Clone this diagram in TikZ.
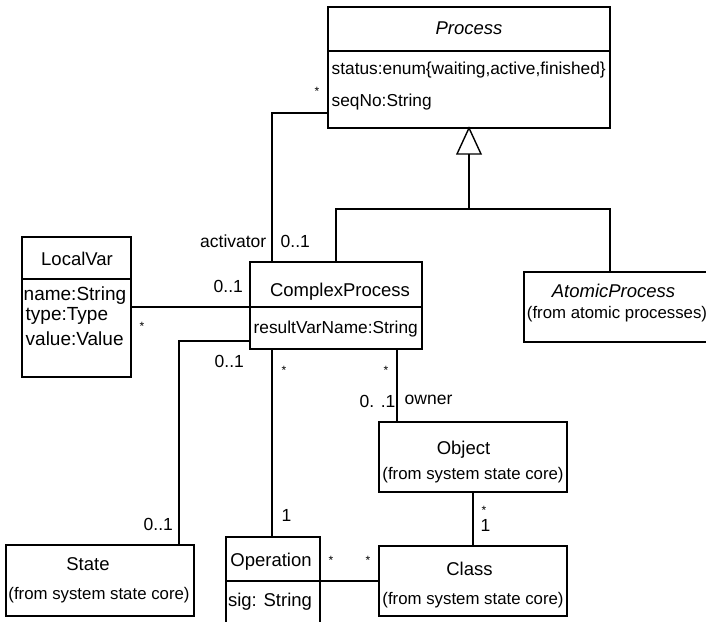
\documentclass[tikz,border=0pt]{standalone}
\usepackage{fontspec}
\setmainfont{Liberation Sans}
\usetikzlibrary{calc}
\begin{document}
\begin{tikzpicture}[x=1pt,y=-1pt,line width=1.4pt,
  box/.style={draw,rectangle,inner sep=0pt,outer sep=0pt,anchor=north west},
  cname/.style={font=\fontsize{18.5}{20}\selectfont,inner sep=0pt,anchor=base},
  attr/.style={font=\fontsize{17.3}{19}\selectfont,inner sep=0pt,anchor=base west},
  lvattr/.style={attr,font=\fontsize{19}{21}\selectfont},
  note/.style={font=\fontsize{16.8}{18}\selectfont,inner sep=0pt,anchor=base},
  mult/.style={font=\fontsize{17.5}{19}\selectfont,inner sep=0pt,anchor=base west},
  star/.style={font=\fontsize{12}{13}\selectfont,inner sep=0pt,anchor=base}]
\useasboundingbox (0,0) rectangle (706,621);

% ---- class boxes ----
\node[box,minimum width=282pt,minimum height=121pt] (proc) at (328,7) {};
\node[box,minimum width=109pt,minimum height=140pt] (lv) at (22,237) {};
\node[box,minimum width=172pt,minimum height=87pt] (cp) at (250,262) {};
\node[box,minimum width=190pt,minimum height=70pt] (ap) at (524,272) {};
\node[box,minimum width=188pt,minimum height=70pt] (obj) at (379,422) {};
\node[box,minimum width=188pt,minimum height=70pt] (cls) at (379,546) {};
\node[box,minimum width=188pt,minimum height=71pt] (st) at (6,545) {};
\node[box,minimum width=94pt,minimum height=100pt] (op) at (226,537) {};

% ---- compartment dividers ----
\draw ($(proc.north west)+(0,44)$) -- ($(proc.north east)+(0,44)$);
\draw ($(lv.north west)+(0,42)$) -- ($(lv.north east)+(0,42)$);
\draw ($(cp.north west)+(0,45)$) -- ($(cp.north east)+(0,45)$);
\draw ($(op.north west)+(0,44)$) -- ($(op.north east)+(0,44)$);

% ---- class texts ----
\node[cname,font=\itshape\fontsize{18.5}{20}\selectfont] (tProc) at (469,34.5) {Process};
\node[attr] (aStatus) at (331,74.5) {status:enum\{waiting,active,finished\}};
\node[attr] (aSeq) at (331,106) {seqNo:String};

\node[cname] (tLv) at (77,265) {LocalVar};
\node[lvattr] (aName) at (23,300) {name:String};
\node[lvattr] (aType) at (25,320) {type:Type};
\node[lvattr] (aValue) at (25,345) {value:Value};

\node[cname] (tCp) at (340,296) {ComplexProcess};
\node[attr] (aRes) at (253,333) {resultVarName:String};

\node[cname,font=\itshape\fontsize{18.5}{20}\selectfont] (tAp) at (613.5,297) {AtomicProcess};
\node[note] (nAp) at (617,318) {(from atomic processes)};

\node[cname] (tObj) at (463.5,454) {Object};
\node[note] (nObj) at (473,479) {(from system state core)};

\node[cname] (tCls) at (469.5,575) {Class};
\node[note] (nCls) at (473,604) {(from system state core)};

\node[cname] (tSt) at (88,570) {State};
\node[note] (nSt) at (99,599) {(from system state core)};

\node[cname] (tOp) at (271,566) {Operation};
\node[cname] (aSig) at (270,606) {sig: String};

% ---- generalization ----
\coordinate (triBase) at ($(proc.south)+(0,26)$);
\coordinate (hub) at ($(proc.south)+(0,81)$);
\coordinate (apTop) at ($(ap.north west)+(86,0)$);
\draw[line join=miter] (proc.south) -- ($(triBase)+(-12,0)$) -- ($(triBase)+(12,0)$) -- cycle;
\draw (triBase) -- (hub);
\draw (cp.north) |- (hub) -| (apTop);

% ---- associations ----
\coordinate (pAct) at ($(proc.north west)+(0,106)$);
\coordinate (cAct) at ($(cp.north west)+(22,0)$);
\draw (pAct) -| (cAct);

\coordinate (lvEnd) at ($(lv.north east)+(0,70)$);
\draw (lvEnd) -- (lvEnd -| cp.west);

\coordinate (cSt) at ($(cp.north west)+(0,79)$);
\coordinate (sSt) at ($(st.north west)+(173,0)$);
\draw (cSt) -| (sSt);

\coordinate (cOp) at ($(cp.south west)+(22,0)$);
\draw (cOp) -- (cOp |- op.north);

\coordinate (cOw) at ($(cp.south west)+(147,0)$);
\draw (cOw) -- (cOw |- obj.north);

\draw (obj.south) -- (cls.north);

\coordinate (oCl) at ($(op.north east)+(0,44)$);
\draw (oCl) -- (oCl -| cls.west);

% ---- multiplicities and roles ----
\node[star] (m1) at (317,95) {*};
\node[mult,anchor=base east] (rAct) at (267,247) {activator};
\node[mult] (m2) at (280,247) {0..1};
\node[mult] (m3) at (213,292) {0..1};
\node[star] (m4) at (142,330) {*};
\node[mult] (m5) at (214,367) {0..1};
\node[mult] (m6) at (143,530) {0..1};
\node[star] (m7) at (284,374) {*};
\node[mult] (m8) at (281,521) {1};
\node[star] (m9) at (386,374) {*};
\node[mult] (m10) at (359,407) {0. .1};
\node[mult] (rOwn) at (404,404) {owner};
\node[star] (m11) at (484,514) {*};
\node[mult] (m12) at (480,531) {1};
\node[star] (m13) at (331,564) {*};
\node[star] (m14) at (368,564) {*};
\end{tikzpicture}
\end{document}
